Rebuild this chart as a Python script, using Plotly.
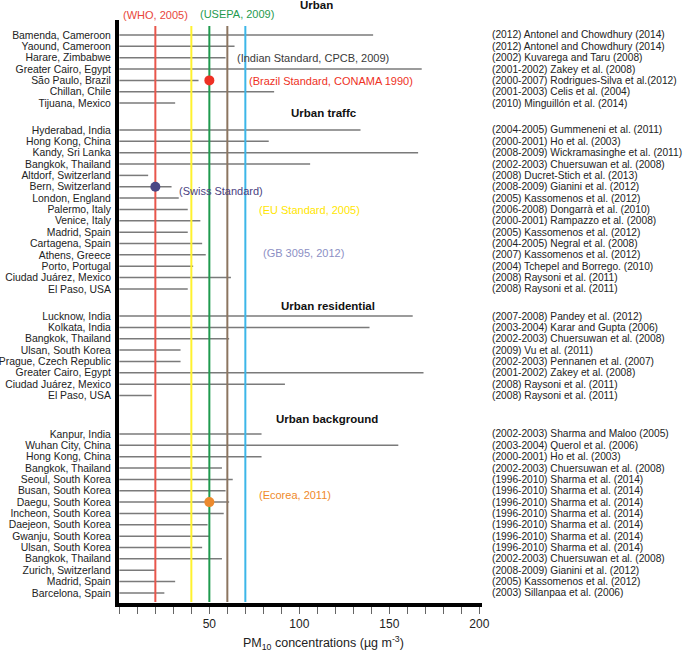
import plotly.graph_objects as go

# ---------------- data ----------------
urban_sites = ["Bamenda, Cameroon", "Yaound, Cameroon", "Harare, Zimbabwe", "Greater Cairo, Egypt",
               "São Paulo, Brazil", "Chillan, Chile", "Tijuana, Mexico"]
urban_values = [141, 64, 59, 168, 44, 86, 31]
urban_refs = ["(2012) Antonel and Chowdhury (2014)", "(2012) Antonel and Chowdhury (2014)",
              "(2002) Kuvarega and Taru (2008)", "(2001-2002) Zakey et al. (2008)",
              "(2000-2007) Rodrigues-Silva et al.(2012)", "(2001-2003) Celis et al. (2004)",
              "(2010) Minguillón et al. (2014)"]

traffic_sites = ["Hyderabad, India", "Hong Kong, China", "Kandy, Sri Lanka", "Bangkok, Thailand",
                 "Altdorf, Switzerland", "Bern, Switzerland", "London, England", "Palermo, Italy",
                 "Venice, Italy", "Madrid, Spain", "Cartagena, Spain", "Athens, Greece",
                 "Porto, Portugal", "Ciudad Juárez, Mexico", "El Paso, USA"]
traffic_values = [134, 83, 166, 106, 16, 29, 33, 38, 45, 38, 46, 48, 41, 62, 38]
traffic_refs = ["(2004-2005) Gummeneni et al. (2011)", "(2000-2001) Ho et al. (2003)",
                "(2008-2009) Wickramasinghe et al. (2011)", "(2002-2003) Chuersuwan et al. (2008)",
                "(2008) Ducret-Stich et al. (2013)", "(2008-2009) Gianini et al. (2012)",
                "(2005) Kassomenos et al. (2012)", "(2006-2008) Dongarrà et al. (2010)",
                "(2000-2001) Rampazzo et al. (2008)", "(2005) Kassomenos et al. (2012)",
                "(2004-2005) Negral et al. (2008)", "(2007) Kassomenos et al. (2012)",
                "(2004) Tchepel and Borrego. (2010)", "(2008) Raysoni et al. (2011)",
                "(2008) Raysoni et al. (2011)"]

residential_sites = ["Lucknow, India", "Kolkata, India", "Bangkok, Thailand", "Ulsan, South Korea",
                     "Prague, Czech Republic", "Greater Cairo, Egypt", "Ciudad Juárez, Mexico",
                     "El Paso, USA"]
residential_values = [163, 139, 61, 34, 34, 169, 92, 18]
residential_refs = ["(2007-2008) Pandey et al. (2012)", "(2003-2004) Karar and Gupta (2006)",
                    "(2002-2003) Chuersuwan et al. (2008)", "(2009) Vu et al. (2011)",
                    "(2002-2003) Pennanen et al. (2007)", "(2001-2002) Zakey et al. (2008)",
                    "(2008) Raysoni et al. (2011)", "(2008) Raysoni et al. (2011)"]

background_sites = ["Kanpur, India", "Wuhan City, China", "Hong Kong, China", "Bangkok, Thailand",
                    "Seoul, South Korea", "Busan, South Korea", "Daegu, South Korea",
                    "Incheon, South Korea", "Daejeon, South Korea", "Gwanju, South Korea",
                    "Ulsan, South Korea", "Bangkok, Thailand", "Zurich, Switzerland",
                    "Madrid, Spain", "Barcelona, Spain"]
background_values = [79, 155, 79, 57, 63, 59, 61, 58, 49, 50, 46, 57, 20, 31, 25]
background_refs = ["(2002-2003) Sharma and Maloo (2005)", "(2003-2004) Querol et al. (2006)",
                   "(2000-2001) Ho et al. (2003)", "(2002-2003) Chuersuwan et al. (2008)",
                   "(1996-2010) Sharma et al. (2014)", "(1996-2010) Sharma et al. (2014)",
                   "(1996-2010) Sharma et al. (2014)", "(1996-2010) Sharma et al. (2014)",
                   "(1996-2010) Sharma et al. (2014)", "(1996-2010) Sharma et al. (2014)",
                   "(1996-2010) Sharma et al. (2014)", "(2002-2003) Chuersuwan et al. (2008)",
                   "(2008-2009) Gianini et al. (2012)", "(2005) Kassomenos et al. (2012)",
                   "(2003) Sillanpaa et al. (2006)"]

section_titles = ["Urban", "Urban traffc", "Urban residential", "Urban background"]

# vertical standard lines
line_std_names = ["WHO, 2005", "EU Standard, 2005", "USEPA, 2009", "Indian Standard, CPCB, 2009", "GB 3095, 2012"]
line_std_values = [20, 40, 50, 60, 70]

# point standards
point_std_names = ["Brazil Standard, CONAMA 1990", "Swiss Standard", "Ecorea, 2011"]
point_std_values = [50, 20, 50]

x_tick_vals = [50, 100, 150, 200]
x_tick_text = ["50", "100", "150", "200"]
x_minor_step = 10

# ---------------- layout helpers ----------------
sections = [
    (urban_sites, urban_values, urban_refs),
    (traffic_sites, traffic_values, traffic_refs),
    (residential_sites, residential_values, residential_refs),
    (background_sites, background_values, background_refs),
]
section_starts = [0, 8.37, 24.76, 35.15]
title_pos = [("paper", 1.026, 0.545), ("y", 6.87, 0.565), ("y", 23.9, 0.576), ("y", 33.8, 0.572)]

FONT = "Liberation Sans, Arial, Helvetica, sans-serif"

ys, names, vals, refs = [], [], [], []
for (s, v, r), start in zip(sections, section_starts):
    for i in range(len(s)):
        ys.append(start + i)
        names.append(s[i])
        vals.append(v[i])
        refs.append(r[i])

fig = go.Figure()

# grey horizontal ranges
lx, ly = [], []
for y, v in zip(ys, vals):
    lx += [0, v, None]
    ly += [y, y, None]
fig.add_trace(go.Scatter(x=lx, y=ly, mode="lines", line=dict(color="#7a7a7a", width=1.5),
                         hoverinfo="skip", showlegend=False))

# vertical standards
line_colors = ["#e8564c", "#fff22e", "#1f9a4e", "#8c7560", "#3cb6e8"]
for v, c in zip(line_std_values, line_colors):
    fig.add_trace(go.Scatter(x=[v, v], y=[-0.79, 49.95], mode="lines",
                             line=dict(color=c, width=2), hoverinfo="skip", showlegend=False))

# point standards
point_rows = [ys[names.index("São Paulo, Brazil")],
              ys[names.index("Bern, Switzerland")],
              ys[names.index("Daegu, South Korea")]]
point_colors = ["#ee3124", "#4a4785", "#ec8a2e"]
fig.add_trace(go.Scatter(x=point_std_values, y=point_rows, mode="markers",
                         marker=dict(color=point_colors, size=10), hoverinfo="skip", showlegend=False))

ann = []
# references on the right
for y, r in zip(ys, refs):
    ann.append(dict(x=1.022, xref="paper", y=y, yref="y", text=r, showarrow=False,
                    xanchor="left", yanchor="middle", font=dict(size=10.2, color="#222", family=FONT)))

# section titles
for t, (yref, yv, xv) in zip(section_titles, title_pos):
    ann.append(dict(x=xv, xref="paper", y=yv, yref=yref, text="<b>%s</b>" % t, showarrow=False,
                    xanchor="center", yanchor="middle", font=dict(size=11.5, color="#111", family=FONT)))

# standard labels
std_ann = [
    ("(WHO, 2005)", 20, "paper", 1.0086, "center", "#e8463a"),
    ("(USEPA, 2009)", 43.9, "paper", 1.010, "left", "#1f9a4e"),
    ("(Indian Standard, CPCB, 2009)", 64.3, "y", 2.0, "left", "#3a3a3a"),
    ("(Brazil Standard, CONAMA 1990)", 70.8, "y", 4.05, "left", "#ee3124"),
    ("(Swiss Standard)", 31.9, "y", 13.7, "left", "#4a3f7f"),
    ("(EU Standard, 2005)", 76.3, "y", 15.4, "left", "#ffe600"),
    ("(GB 3095, 2012)", 78.5, "y", 19.2, "left", "#8c8fc4"),
    ("(Ecorea, 2011)", 76.3, "y", 40.5, "left", "#ef8a2a"),
]
for txt, x, yref, y, xa, c in std_ann:
    ann.append(dict(x=x, xref="x", y=y, yref=yref, text=txt, showarrow=False, xanchor=xa,
                    yanchor="middle", font=dict(size=11, color=c, family=FONT)))

# x-axis title
ann.append(dict(x=0.562, xref="paper", y=-0.069, yref="paper",
                text="PM<sub>10</sub> concentrations (µg m<sup>-3</sup>)", showarrow=False,
                xanchor="center", yanchor="middle", font=dict(size=12.5, color="#222", family=FONT)))

fig.update_layout(
    width=685, height=652,
    margin=dict(l=119, r=203, t=20, b=49, autoexpand=False),
    paper_bgcolor="white", plot_bgcolor="white",
    showlegend=False,
    annotations=ann,
    xaxis=dict(range=[-0.2, 201.5], showgrid=False, zeroline=False, automargin=False,
               showline=True, linecolor="black", linewidth=4,
               tickmode="array", tickvals=x_tick_vals, ticktext=x_tick_text,
               ticks="outside", ticklen=7, tickwidth=1, tickcolor="#666",
               minor=dict(ticks="outside", tick0=0, dtick=x_minor_step, ticklen=7,
                          tickwidth=1, tickcolor="#666", showgrid=False),
               tickfont=dict(size=12, color="#222", family=FONT)),
    yaxis=dict(range=[50.04, -1.32], showgrid=False, zeroline=False, automargin=False,
               showline=True, linecolor="black", linewidth=4,
               tickmode="array", tickvals=ys, ticktext=names, ticks="",
               ticklabelstandoff=2,
               tickfont=dict(size=10.4, color="#222", family=FONT)),
)

# remove the default 8px page margin so the figure sits at the window's corner
fig.write_html("out.html", config={"displayModeBar": False},
               post_script="document.body.style.margin='0px';")
